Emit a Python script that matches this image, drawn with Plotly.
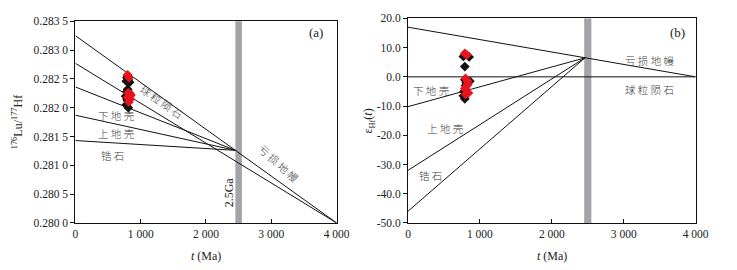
import plotly.graph_objects as go

# ---------------- data ----------------
t_ends = [0, 4000]
t_conv_a = 2450
t_conv_b = 2460

# panel (a): 176Hf/177Hf evolution lines
dm_a = [0.28325, 0.28000]       # depleted mantle
chur_a = [0.28277, 0.28000]     # chondrite
conv_a = 0.28126                # convergence value on DM line
lc_a0 = 0.28236                 # lower crust at t=0
uc_a0 = 0.28187                 # upper crust at t=0
zr_a0 = 0.28143                 # zircon at t=0

# panel (b): eHf(t) evolution lines
dm_b = [17.0, 0.0]
chur_b = [0.0, 0.0]
conv_b = 6.5
lc_b0 = -10.2
uc_b0 = -32.0
zr_b0 = -46.0

bar_range = [2450, 2550]

# samples (a)
a_black_t = [790, 810, 830, 780, 800, 790, 770, 800, 780, 810, 790, 830, 800]
a_black_y = [0.28252, 0.28248, 0.28244, 0.28246, 0.28255, 0.28228, 0.28220, 0.28212,
             0.28205, 0.28200, 0.28215, 0.28225, 0.28232]
a_red_t = [800, 820, 810, 830, 840, 820, 850, 800]
a_red_y = [0.28257, 0.28252, 0.28226, 0.28220, 0.28215, 0.28210, 0.28222, 0.28218]

# samples (b)
b_black_t = [770, 850, 790, 860, 800, 780, 790, 770, 810, 790]
b_black_y = [7.0, 6.8, 3.5, -1.5, -3.0, -5.0, -7.5, -6.5, -2.0, -1.0]
b_red_t = [790, 820, 800, 830, 820, 810, 840, 800, 830, 790]
b_red_y = [8.0, 7.5, -0.5, -1.5, -3.0, -4.5, -5.5, -6.0, -2.5, -4.0]

x_ticks = [0, 1000, 2000, 3000, 4000]
x_ticklabels = ["0", "1 000", "2 000", "3 000", "4 000"]
ya_ticks = [0.2800, 0.2805, 0.2810, 0.2815, 0.2820, 0.2825, 0.2830, 0.2835]
ya_ticklabels = ["0.280 0", "0.280 5", "0.281 0", "0.281 5", "0.282 0", "0.282 5", "0.283 0", "0.283 5"]
yb_ticks = [20, 10, 0, -10, -20, -30, -40, -50]
yb_ticklabels = ["20.0", "10.0", "0.0", "-10.0", "-20.0", "-30.0", "-40.0", "-50.0"]

# ---------------- figure ----------------
W, H = 737, 270
fig = go.Figure()
line = dict(color="#111111", width=1)

def add_lines(xa, ya, dm, chur, conv, tconv, starts):
    fig.add_trace(go.Scatter(x=t_ends, y=dm, mode="lines", line=line, xaxis=xa, yaxis=ya))
    fig.add_trace(go.Scatter(x=t_ends, y=chur, mode="lines", line=line, xaxis=xa, yaxis=ya))
    for s in starts:
        fig.add_trace(go.Scatter(x=[0, tconv], y=[s, conv], mode="lines", line=line,
                                 xaxis=xa, yaxis=ya))

add_lines("x", "y", dm_a, chur_a, conv_a, t_conv_a, [lc_a0, uc_a0, zr_a0])
add_lines("x2", "y2", dm_b, chur_b, conv_b, t_conv_b, [lc_b0, uc_b0, zr_b0])

mk_black = dict(symbol="diamond", size=7.5, color="#111111")
mk_red = dict(symbol="diamond", size=7.5, color="#e8141c")
fig.add_trace(go.Scatter(x=a_black_t, y=a_black_y, mode="markers", marker=mk_black, xaxis="x", yaxis="y"))
fig.add_trace(go.Scatter(x=a_red_t, y=a_red_y, mode="markers", marker=mk_red, xaxis="x", yaxis="y"))
fig.add_trace(go.Scatter(x=b_black_t, y=b_black_y, mode="markers", marker=mk_black, xaxis="x2", yaxis="y2"))
fig.add_trace(go.Scatter(x=b_red_t, y=b_red_y, mode="markers", marker=mk_red, xaxis="x2", yaxis="y2"))

for xr, yr in [("x", "y domain"), ("x2", "y2 domain")]:
    fig.add_shape(type="rect", xref=xr, yref=yr, x0=bar_range[0], x1=bar_range[1], y0=0, y1=1,
                  fillcolor="#a3a3aa", line_width=0, layer="below")

num_font = dict(family="Liberation Serif", size=11.5, color="#222222")
cjk = "Noto Sans CJK SC"
ax_common = dict(showline=True, linecolor="#111111", linewidth=1, mirror=True, showgrid=False,
                 zeroline=False, tickfont=num_font, ticklen=4, tickcolor="#111111")

dom_a = [74 / W, 341 / W]
dom_b = [414 / W, 708 / W]
fig.update_layout(
    autosize=True, margin=dict(l=0, r=0, t=0, b=0),
    paper_bgcolor="white", plot_bgcolor="white", showlegend=False,
    xaxis=dict(domain=dom_a, range=[0, 4000], tickvals=x_ticks, ticktext=x_ticklabels,
               ticks="inside", anchor="y", **ax_common),
    yaxis=dict(domain=[1 - 227 / H, 1 - 16 / H], range=[0.2800, 0.2835], tickvals=ya_ticks,
               ticktext=ya_ticklabels, ticks="outside", anchor="x", **ax_common),
    xaxis2=dict(domain=dom_b, range=[0, 4000], tickvals=x_ticks, ticktext=x_ticklabels,
                ticks="inside", anchor="y2", **ax_common),
    yaxis2=dict(domain=[1 - 227 / H, 1 - 13 / H], range=[-50, 20], tickvals=yb_ticks,
                ticktext=yb_ticklabels, ticks="outside", anchor="x2", **ax_common),
)

def px_ann(text, x, y, size=11, angle=0, family=cjk, color="#3a3a3a", weight="normal"):
    fig.add_annotation(text=text, x=x / W, y=1 - y / H, xref="paper", yref="paper",
                       showarrow=False, textangle=angle, xanchor="center", yanchor="middle",
                       font=dict(family=family, size=size, color=color, weight=weight))

serif = "Liberation Serif"
lw = 300
# panel (a) labels
px_ann("(a)", 320, 28, size=13, family=serif, color="#222222")
px_ann("球 粒 陨 石", 162, 100, size=10.5, angle=35, weight=lw)
px_ann("下 地 壳", 115, 115, size=10.5, weight=lw)
px_ann("上 地 壳", 115, 133, size=10.5, weight=lw)
px_ann("锆 石", 112, 156, size=10.5, weight=lw)
px_ann("亏 损 地 幔", 282, 165, size=10.5, angle=42, weight=lw)
px_ann("2.5Ga", 231, 195, size=12, angle=-90, family=serif, color="#222222")
px_ann("<i>t</i> (Ma)", 208, 262, size=12, family=serif, color="#222222")
px_ann("<sup>176</sup>Lu/<sup>177</sup>Hf", 15, 122, size=12, angle=-90, family=serif, color="#222222")

# panel (b) labels
px_ann("(b)", 689, 28, size=13, family=serif, color="#222222")
px_ann("亏 损 地 幔", 661, 57, size=10.5, weight=lw)
px_ann("球 粒 陨 石", 661, 87, size=10.5, weight=lw)
px_ann("下 地 壳", 437, 88, size=10.5, weight=lw)
px_ann("上 地 壳", 452, 128, size=10.5, weight=lw)
px_ann("锆 石", 437, 177, size=10.5, weight=lw)
px_ann("<i>t</i> (Ma)", 561, 262, size=12, family=serif, color="#222222")
px_ann("ε<sub>Hf</sub>(<i>t</i>)", 374, 120, size=12, angle=-90, family=serif, color="#222222")

fig.write_html("out.html", config={"displayModeBar": False},
               default_width="100vw", default_height="100vh",
               post_script="document.body.style.margin='0';document.body.style.overflow='hidden';")
